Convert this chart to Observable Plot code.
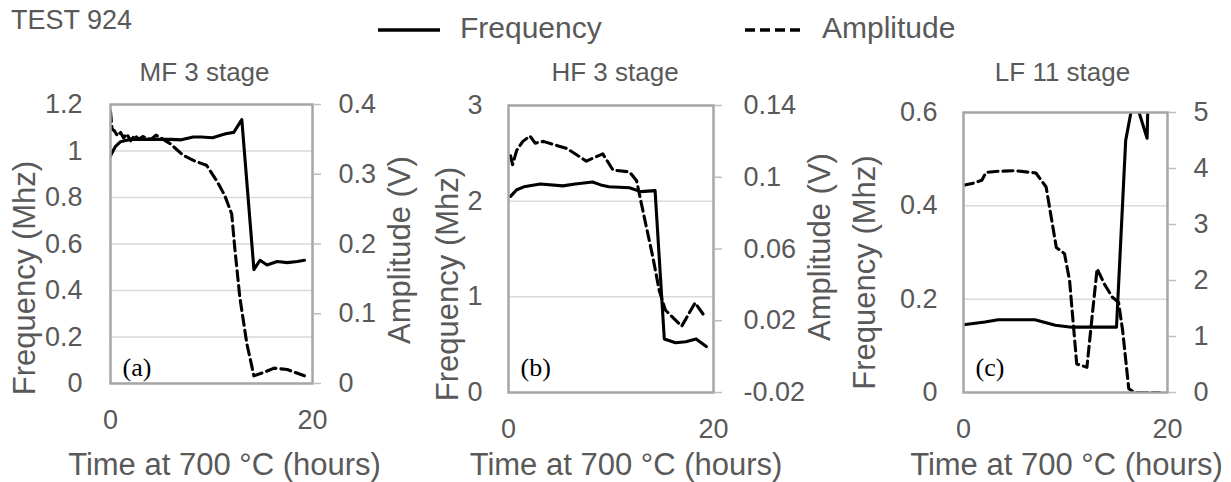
<!DOCTYPE html>
<html><head><meta charset="utf-8">
<script src="https://cdn.jsdelivr.net/npm/d3@7"></script>
<script src="https://cdn.jsdelivr.net/npm/@observablehq/plot@0.6"></script>
<style>
body{margin:0;background:#fff;font-family:"Liberation Sans",Arial,sans-serif;color:#595959}
#wrap{position:relative;width:1231px;height:482px;overflow:hidden;background:#fff}
.abs{position:absolute;white-space:nowrap}
.abs svg{display:block}
</style></head><body><div id="wrap"></div>
<script>
// ---- data ----
const headerText = "TEST 924";
const legendLabels = ["Frequency", "Amplitude"];
const xTicks = [0, 20];
const xTitle = "Time at 700 °C (hours)";
const freqTitle = "Frequency (Mhz)";
const ampTitle = "Amplitude (V)";

// panel (a) MF 3 stage
const aFreqT = [0, 0.5, 1, 1.5, 2, 3, 4, 5, 6, 7, 8.2, 9, 10.1, 11.4, 12.2, 13, 14.2, 14.8, 15.5, 16.5, 17.5, 18.5, 19.2];
const aFreq  = [0.98, 1.02, 1.04, 1.045, 1.05, 1.05, 1.05, 1.05, 1.05, 1.048, 1.06, 1.06, 1.057, 1.074, 1.08, 1.135, 0.49, 0.53, 0.51, 0.525, 0.52, 0.525, 0.53];
const aAmpT  = [0, 0.15, 0.4, 0.7, 1.0, 1.3, 1.6, 2.0, 2.4, 2.8, 3.2, 3.6, 4.0, 4.5, 5.0, 5.9, 7.2, 8.5, 9.5, 10.5, 11.3, 12.0, 12.3, 12.8, 13.5, 14.2, 15.2, 16.2, 17.5, 19.2];
const aAmp   = [0.39, 0.365, 0.362, 0.355, 0.36, 0.352, 0.358, 0.348, 0.356, 0.35, 0.354, 0.352, 0.35, 0.356, 0.352, 0.344, 0.327, 0.318, 0.313, 0.291, 0.27, 0.243, 0.195, 0.124, 0.057, 0.011, 0.016, 0.022, 0.02, 0.011];
const aFreqTicks = [0, 0.2, 0.4, 0.6, 0.8, 1, 1.2];
const aAmpTicks  = [0, 0.1, 0.2, 0.3, 0.4];

// panel (b) HF 3 stage
const bFreqT = [0.2, 0.8, 1.5, 3.1, 5.3, 6.5, 8.2, 9.0, 9.8, 11.8, 12.9, 14.3, 15.2, 16.3, 17.3, 18.3, 19.3];
const bFreq  = [2.05, 2.12, 2.15, 2.18, 2.16, 2.18, 2.2, 2.17, 2.15, 2.14, 2.1, 2.11, 0.56, 0.52, 0.53, 0.56, 0.48];
const bAmpT  = [0.2, 0.4, 0.8, 1.4, 2.1, 2.6, 3.4, 5.7, 7.6, 9.2, 10.2, 11.8, 12.5, 12.9, 14.1, 14.7, 15.3, 16.9, 18.2, 19.2];
const bAmp   = [0.112, 0.107, 0.115, 0.12, 0.123, 0.119, 0.12, 0.116, 0.109, 0.113, 0.104, 0.103, 0.098, 0.087, 0.055, 0.037, 0.026, 0.017, 0.03, 0.022];
const bFreqTicks = [0, 1, 2, 3];
const bAmpTicks  = [-0.02, 0.02, 0.06, 0.1, 0.14];

// panel (c) LF 11 stage
const cFreqT = [0, 2.1, 3.4, 7.0, 9.0, 10.6, 15.0, 15.9, 16.5, 17.0, 18.0, 18.1];
const cFreq  = [0.145, 0.151, 0.156, 0.156, 0.144, 0.14, 0.14, 0.54, 0.61, 0.615, 0.545, 0.64];
const cAmpT  = [0, 1.0, 1.8, 2.2, 3.4, 5.1, 7.1, 8.1, 8.6, 9.1, 9.9, 10.4, 11.1, 12.1, 12.6, 13.1, 13.8, 14.6, 15.2, 15.6, 16.2, 16.7, 19.2];
const cAmp   = [3.7, 3.74, 3.79, 3.93, 3.95, 3.96, 3.92, 3.67, 3.13, 2.59, 2.48, 2.0, 0.51, 0.45, 1.34, 2.21, 1.94, 1.7, 1.61, 1.11, 0.07, 0, 0];
const cFreqTicks = [0, 0.2, 0.4, 0.6];
const cAmpTicks  = [0, 1, 2, 3, 4, 5];

const panelTitles = ["MF 3 stage", "HF 3 stage", "LF 11 stage"];
const panelTags = ["(a)", "(b)", "(c)"];

// ---- drawing ----
const TXT = "#595959";
const H = 482;
const wrap = document.getElementById("wrap");

function place(el, left, top) {
  const d = document.createElement("div");
  d.className = "abs";
  d.style.left = left + "px";
  d.style.top = top + "px";
  d.appendChild(el);
  wrap.appendChild(d);
  return d;
}

function panel(o) {
  const aToF = d3.scaleLinear().domain([o.aTicks[0], o.aTicks[o.aTicks.length - 1]])
    .range([o.fTicks[0], o.fTicks[o.fTicks.length - 1]]);
  const freqRows = o.freqT.map((t, i) => ({t, f: o.freq[i]}));
  const ampRows = o.ampT.map((t, i) => ({t, a: o.amp[i]}));
  const ampLabel = new Map(o.aTicks.map(a => [aToF(a), String(a)]));
  const [fl, fr, ft, fb] = o.frame;
  const marks = [
    Plot.gridY(o.fTicks, {stroke: "#d9d9d9", strokeOpacity: 1, strokeWidth: 1.5}),
    Plot.line(ampRows, {x: "t", y: d => aToF(d.a), stroke: "black", strokeWidth: 3.1, strokeDasharray: "10,5", clip: true}),
    Plot.line(freqRows, {x: "t", y: "f", stroke: "black", strokeWidth: 3.1, clip: true}),
    Plot.frame({stroke: "#a6a6a6", strokeWidth: 2.5}),
    Plot.axisY(o.fTicks, {anchor: "left", tickSize: 0, tickPadding: o.lPad, tickFormat: d => String(d), fontSize: 27, fill: TXT, label: null}),
    Plot.axisY(o.aTicks.map(aToF), {anchor: "right", tickSize: 8, tickPadding: o.rPad, stroke: "#bfbfbf", strokeWidth: 1.5, fill: TXT, tickFormat: d => ampLabel.get(d), fontSize: 27, label: null}),
    Plot.axisX(xTicks, {anchor: "bottom", tickSize: 0, tickPadding: 26, tickFormat: d => String(d), fontSize: 27, fill: TXT, label: null}),
    Plot.text([xTitle], {text: d => d, frameAnchor: "bottom", textAnchor: "middle", lineAnchor: "middle", dx: o.xTitleDx, dy: o.xTitleDy, fontSize: 31, fill: TXT}),
    Plot.text([freqTitle], {text: d => d, frameAnchor: "left", textAnchor: "middle", lineAnchor: "middle", rotate: -90, dx: o.fTitleDx, dy: o.fTitleDy, fontSize: 31, fill: TXT}),
    Plot.text([o.title], {text: d => d, frameAnchor: "top", textAnchor: "middle", lineAnchor: "middle", dx: o.titleDx, dy: o.titleDy, fontSize: 26, fill: TXT}),
    Plot.text([o.tag], {text: d => d, frameAnchor: "bottom-left", textAnchor: "start", lineAnchor: "middle", dx: 12, dy: o.tagDy, fontSize: 26, fill: "black", fontFamily: "Liberation Serif, serif"})
  ];
  if (o.showAmpTitle) {
    marks.push(Plot.text([ampTitle], {text: d => d, frameAnchor: "right", textAnchor: "middle", lineAnchor: "middle", rotate: -90, dx: o.aTitleDx, dy: o.aTitleDy, fontSize: 31, fill: TXT}));
  }
  return Plot.plot({
    width: o.width, height: H,
    marginLeft: fl - o.left, marginRight: o.left + o.width - fr,
    marginTop: ft, marginBottom: H - fb,
    style: {fontFamily: "Liberation Sans, Arial, sans-serif", color: TXT, background: "transparent", overflow: "visible"},
    x: {domain: [0, 20]},
    y: {domain: [o.fTicks[0], o.fTicks[o.fTicks.length - 1]]},
    marks
  });
}

const specs = [
  {left: 0, width: 430, frame: [110, 312, 104, 383], fTicks: aFreqTicks, aTicks: aAmpTicks,
   freqT: aFreqT, freq: aFreq, ampT: aAmpT, amp: aAmp, lPad: 28, rPad: 18, showAmpTitle: true,
   xTitleDx: 13, xTitleDy: 82, fTitleDx: -85, fTitleDy: 34, aTitleDx: 88, aTitleDy: 6, titleDx: -7, titleDy: -32, tagDy: -16},
  {left: 430, width: 415, frame: [508, 713, 105, 392], fTicks: bFreqTicks, aTicks: bAmpTicks,
   freqT: bFreqT, freq: bFreq, ampT: bAmpT, amp: bAmp, lPad: 26, rPad: 22, showAmpTitle: true,
   xTitleDx: 15, xTitleDy: 73, fTitleDx: -60, fTitleDy: 35, aTitleDx: 107, aTitleDy: -2, titleDx: 4, titleDy: -33, tagDy: -25},
  {left: 845, width: 386, frame: [963, 1167, 112, 392], fTicks: cFreqTicks, aTicks: cAmpTicks,
   freqT: cFreqT, freq: cFreq, ampT: cAmpT, amp: cAmp, lPad: 26, rPad: 18, showAmpTitle: false,
   xTitleDx: 1, xTitleDy: 73, fTitleDx: -98, fTitleDy: 20, aTitleDx: 0, aTitleDy: 0, titleDx: -3, titleDy: -40, tagDy: -25}
];
specs.forEach((s, i) => {
  s.title = panelTitles[i];
  s.tag = panelTags[i];
  place(panel(s), s.left, 0);
});

// header
const hdr = document.createElement("div");
hdr.textContent = headerText;
hdr.style.fontSize = "27px";
hdr.style.color = TXT;
place(hdr, 11, 5);

// legend
function legendItem(label, dash, x1, x2, tx) {
  const ns = "http://www.w3.org/2000/svg";
  const s = document.createElementNS(ns, "svg");
  s.setAttribute("width", x2 - x1 + 4);
  s.setAttribute("height", 10);
  const l = document.createElementNS(ns, "line");
  l.setAttribute("x1", 2); l.setAttribute("x2", x2 - x1 + 2);
  l.setAttribute("y1", 5); l.setAttribute("y2", 5);
  l.setAttribute("stroke", "black"); l.setAttribute("stroke-width", 3.5);
  if (dash) l.setAttribute("stroke-dasharray", dash);
  s.appendChild(l);
  place(s, x1 - 2, 25);
  const t = document.createElement("div");
  t.textContent = label;
  t.style.fontSize = "30px";
  t.style.color = TXT;
  place(t, tx, 11);
}
legendItem(legendLabels[0], null, 378, 440, 460);
legendItem(legendLabels[1], "10,5", 745, 805, 822);
</script></body></html>
